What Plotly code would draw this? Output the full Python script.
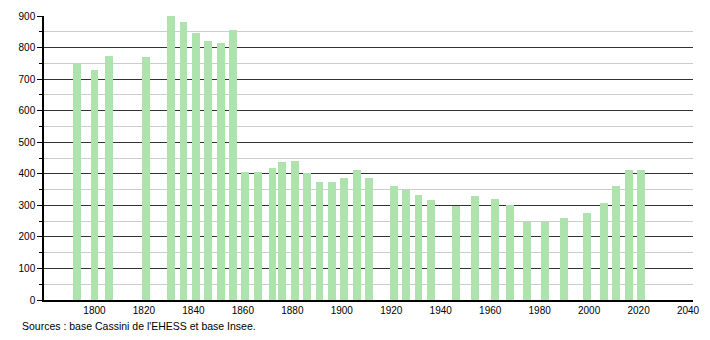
import plotly.graph_objects as go

years = [1793, 1800, 1806, 1821, 1831, 1836, 1841, 1846, 1851, 1856,
         1861, 1866, 1872, 1876, 1881, 1886, 1891, 1896, 1901, 1906, 1911,
         1921, 1926, 1931, 1936, 1946, 1954, 1962, 1968, 1975, 1982, 1990,
         1999, 2006, 2011, 2016, 2021]
population = [747, 729, 773, 769, 900, 882, 845, 822, 813, 857,
              407, 407, 417, 437, 441, 403, 373, 375, 388, 413, 388,
              361, 348, 333, 316, 299, 329, 320, 300, 247, 247, 259,
              276, 307, 360, 411, 413]
x_ticks = [1800, 1820, 1840, 1860, 1880, 1900, 1920, 1940, 1960, 1980, 2000, 2020, 2040]
y_ticks = [0, 100, 200, 300, 400, 500, 600, 700, 800, 900]
source = "Sources : base Cassini de l'EHESS et base Insee."

W, H = 710, 340
L, R, T, B = 44, 10, 10, 40

fig = go.Figure(go.Bar(
    x=years, y=population, width=3.2,
    marker=dict(color="#aee3ae", line=dict(width=0)),
    hoverinfo="x+y",
))

fig.update_layout(
    width=W, height=H,
    margin=dict(l=L, r=R, t=T, b=B, pad=0),
    paper_bgcolor="white", plot_bgcolor="white",
    font=dict(family="Liberation Sans, Arial, sans-serif", size=10, color="black"),
    showlegend=False,
    bargap=0,
    xaxis=dict(
        range=[1779.6, 2042], tickvals=x_ticks, ticktext=[str(v) for v in x_ticks],
        showgrid=False, zeroline=False, showline=True, linecolor="black", linewidth=1.5,
        ticks="", ticklen=0, tickfont=dict(size=10),
    ),
    yaxis=dict(
        range=[0, 900], tickvals=y_ticks, showgrid=True, gridcolor="#333333", gridwidth=1,
        zeroline=False, showline=True, linecolor="black", linewidth=1.5,
        ticks="outside", ticklen=5, tickcolor="black", tickfont=dict(size=10),
        minor=dict(dtick=50, showgrid=True, gridcolor="#cccccc", gridwidth=1,
                   ticks="outside", ticklen=3, tickcolor="black"),
    ),
    annotations=[dict(
        text=source, xref="paper", yref="paper",
        x=(20 - L) / (W - L - R), y=-(327 - (H - B)) / (H - T - B),
        xanchor="left", yanchor="middle", showarrow=False,
        font=dict(size=10.5, color="black"),
    )],
)

fig.write_html("out.html")
